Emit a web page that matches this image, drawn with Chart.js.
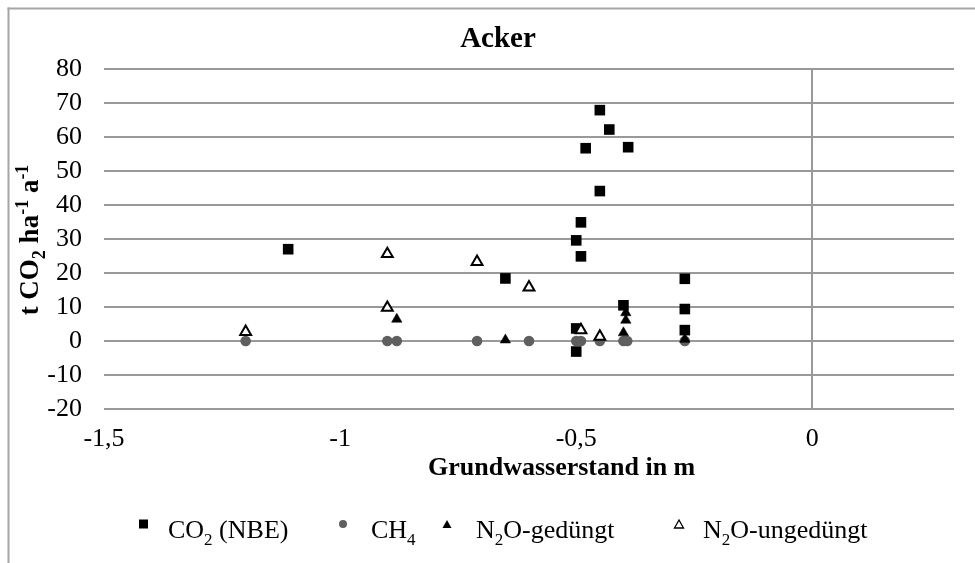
<!DOCTYPE html>
<html><head><meta charset="utf-8">
<script src="https://cdn.jsdelivr.net/npm/chart.js@4.4.0/dist/chart.umd.min.js"></script>
<style>html,body{margin:0;padding:0;background:#fff;}canvas{display:block;}</style>
</head><body>
<canvas id="c" width="975" height="563"></canvas>
<script>
// ---- data ----
const co2X = [-1.11, -0.65, -0.50, -0.49, -0.49, -0.48, -0.45, -0.43, -0.45, -0.39, -0.40, -0.50, -0.50, -0.27, -0.27, -0.27];
const co2Y = [27.0, 18.4, 29.6, 34.9, 24.9, 56.7, 67.9, 62.2, 44.1, 57.0, 10.5, 3.7, -3.1, 18.3, 9.4, 3.2];
const ch4X = [-1.20, -0.90, -0.88, -0.71, -0.60, -0.50, -0.49, -0.45, -0.40, -0.392, -0.27];
const ch4Y = [0, 0, 0, 0, 0, 0, 0, 0, 0, 0, 0];
const n2oGX = [-0.88, -0.65, -0.395, -0.395, -0.40, -0.27];
const n2oGY = [6.4, 0.3, 8.3, 6.1, 2.4, 0.5];
const n2oUX = [-1.20, -0.90, -0.90, -0.71, -0.60, -0.49, -0.45];
const n2oUY = [2.7, 25.6, 9.8, 23.3, 15.8, 3.2, 1.3];
const xTickValues = [-1.5, -1, -0.5, 0];
const yTickValues = [-20, -10, 0, 10, 20, 30, 40, 50, 60, 70, 80];
const seriesNames = ['CO2 (NBE)', 'CH4', 'N2O-gedüngt', 'N2O-ungedüngt'];
const chartTitle = 'Acker';
const xTitle = 'Grundwasserstand in m';

const FAMILY = '"Liberation Serif", "Times New Roman", serif';
const GRID = '#999999';
const pts = (xs, ys) => xs.map((x, i) => ({x: x, y: ys[i]}));

function drawRich(ctx, parts, x, y, size, bold, align) {
  const w = bold ? 'bold ' : '';
  const small = Math.round(size * 0.66);
  let total = 0;
  parts.forEach(p => {
    ctx.font = w + (p.sub || p.sup ? small : size) + 'px ' + FAMILY;
    p.w = ctx.measureText(p.t).width;
    total += p.w;
  });
  let cx = align === 'center' ? x - total / 2 : x;
  ctx.textAlign = 'left';
  ctx.textBaseline = 'alphabetic';
  parts.forEach(p => {
    ctx.font = w + (p.sub || p.sup ? small : size) + 'px ' + FAMILY;
    let dy = p.sub ? size * 0.27 : (p.sup ? -size * 0.38 : 0);
    ctx.fillText(p.t, cx, y + dy);
    cx += p.w;
  });
}

const decor = {
  id: 'decor',
  beforeDraw(chart) {
    const ctx = chart.ctx;
    ctx.save();
    ctx.fillStyle = '#fff';
    ctx.fillRect(0, 0, chart.width, chart.height);
    ctx.fillStyle = '#a6a6a6';
    ctx.fillRect(7.5, 7.5, 2, chart.height);
    ctx.fillRect(7.5, 7.5, chart.width, 2);
    ctx.restore();
  },
  afterDraw(chart) {
    const ctx = chart.ctx;
    ctx.save();
    ctx.fillStyle = '#000';
    // chart title
    ctx.font = 'bold 29px ' + FAMILY;
    ctx.textAlign = 'center';
    ctx.textBaseline = 'alphabetic';
    ctx.fillText(chartTitle, 498, 47);
    // x axis title
    ctx.font = 'bold 26px ' + FAMILY;
    ctx.textAlign = 'left';
    ctx.fillText(xTitle, 428, 475);
    // y axis title (rotated)
    ctx.save();
    ctx.translate(38, 240);
    ctx.rotate(-Math.PI / 2);
    drawRich(ctx, [{t: 't CO'}, {t: '2', sub: true}, {t: ' ha'}, {t: '-1', sup: true}, {t: ' a'}, {t: '-1', sup: true}], 0, 0, 27, true, 'center');
    ctx.restore();
    // legend
    const ly = 538, my = 524;
    ctx.fillStyle = '#000';
    ctx.fillRect(139, my - 4.5, 9, 9);
    drawRich(ctx, [{t: 'CO'}, {t: '2', sub: true}, {t: ' (NBE)'}], 168, ly, 26, false, 'left');
    ctx.fillStyle = '#5f5f5f';
    ctx.beginPath(); ctx.arc(343, my, 4, 0, Math.PI * 2); ctx.fill();
    ctx.fillStyle = '#000';
    drawRich(ctx, [{t: 'CH'}, {t: '4', sub: true}], 371, ly, 26, false, 'left');
    ctx.beginPath(); ctx.moveTo(447, my - 4); ctx.lineTo(451.5, my + 4); ctx.lineTo(442.5, my + 4); ctx.closePath(); ctx.fill();
    drawRich(ctx, [{t: 'N'}, {t: '2', sub: true}, {t: 'O-gedüngt'}], 476, ly, 26, false, 'left');
    ctx.strokeStyle = '#000'; ctx.lineWidth = 1.3;
    ctx.beginPath(); ctx.moveTo(679, my - 4); ctx.lineTo(683.5, my + 4); ctx.lineTo(674.5, my + 4); ctx.closePath(); ctx.stroke();
    drawRich(ctx, [{t: 'N'}, {t: '2', sub: true}, {t: 'O-ungedüngt'}], 703, ly, 26, false, 'left');
    ctx.restore();
  }
};

new Chart(document.getElementById('c'), {
  type: 'scatter',
  data: {
    datasets: [
      {label: seriesNames[0], data: pts(co2X, co2Y), pointStyle: 'rect', pointRadius: 7.5, backgroundColor: '#000', borderWidth: 0, order: 4},
      {label: seriesNames[1], data: pts(ch4X, ch4Y), pointStyle: 'circle', pointRadius: 5.3, backgroundColor: '#5f5f5f', borderWidth: 0, order: 3},
      {label: seriesNames[2], data: pts(n2oGX, n2oGY), pointStyle: 'triangle', pointRadius: 6, backgroundColor: '#000', borderColor: '#000', borderWidth: 0.5, order: 2},
      {label: seriesNames[3], data: pts(n2oUX, n2oUY), pointStyle: 'triangle', pointRadius: 6.3, backgroundColor: '#fff', borderColor: '#000', borderWidth: 2, order: 1}
    ]
  },
  options: {
    responsive: false,
    animation: false,
    layout: {padding: {top: 69, right: 21, left: 0, bottom: 0}},
    plugins: {legend: {display: false}, title: {display: false}, tooltip: {enabled: false}},
    scales: {
      x: {
        type: 'linear', min: -1.5, max: 0.3,
        afterBuildTicks: s => { s.ticks = xTickValues.map(v => ({value: v})); },
        afterFit: s => { s.height = 154; },
        grid: {drawTicks: false, lineWidth: 2, color: c => (c.tick && c.tick.value === 0) ? GRID : 'rgba(0,0,0,0)'},
        border: {display: false},
        ticks: {padding: 15, color: '#000', font: {family: FAMILY, size: 26}, maxRotation: 0, autoSkip: false,
                callback: v => String(v).replace('.', ',')}
      },
      y: {
        type: 'linear', min: -20, max: 80,
        afterBuildTicks: s => { s.ticks = yTickValues.map(v => ({value: v})); },
        afterFit: s => { s.width = 104; },
        grid: {drawTicks: false, lineWidth: 2, color: GRID},
        border: {display: false},
        ticks: {padding: 22, color: '#000', font: {family: FAMILY, size: 26}, autoSkip: false}
      }
    }
  },
  plugins: [decor]
});
</script>
</body></html>
